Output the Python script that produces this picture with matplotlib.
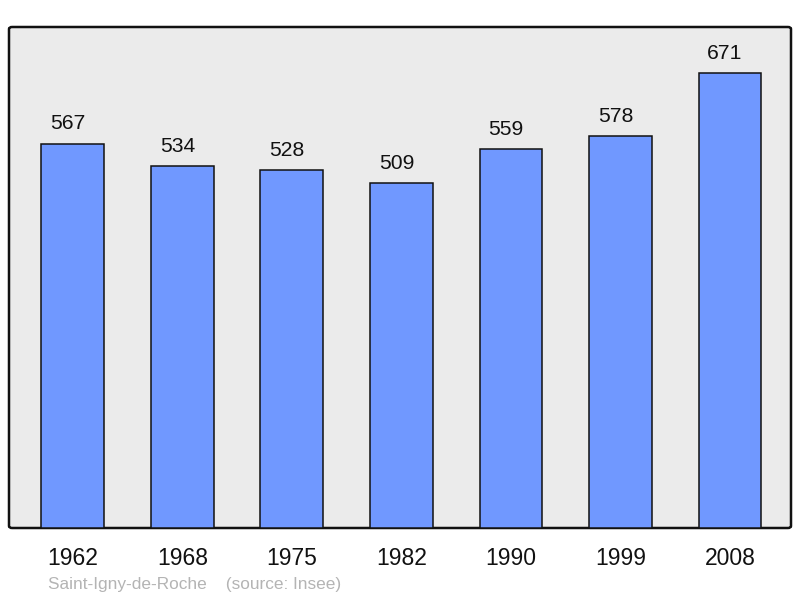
import matplotlib
matplotlib.use("Agg")
import matplotlib.pyplot as plt
from matplotlib.patches import FancyBboxPatch

years = ["1962", "1968", "1975", "1982", "1990", "1999", "2008"]
population = [567, 534, 528, 509, 559, 578, 671]
footer = "Saint-Igny-de-Roche    (source: Insee)"

plt.rcParams["font.family"] = ["Liberation Sans", "DejaVu Sans"]

fig = plt.figure(figsize=(8, 5.98), dpi=100)
ax = fig.add_axes([9 / 800, 1 - 528 / 598, 782 / 800, 501 / 598])
ax.set_facecolor("none")

# rounded background frame
frame = FancyBboxPatch((0, 0), 1, 1, boxstyle="round,pad=0,rounding_size=0.004",
                       transform=ax.transAxes, facecolor="#ebebeb",
                       edgecolor="#111111", linewidth=1.8, zorder=0, clip_on=False)
ax.add_patch(frame)

x = list(range(len(years)))
bars = ax.bar(x, population, width=0.575, color="#7098ff", edgecolor="#111111",
              linewidth=1.1, zorder=2)
for xi, v in zip(x, population):
    ax.annotate(str(v), (xi, v), xytext=(-3.6, 7.5), textcoords="offset points",
                ha="center", va="bottom", fontsize=15.2, color="#111111")

ax.set_xlim(-0.584, 6.557)
ax.set_ylim(0, 739)
for s in ax.spines.values():
    s.set_visible(False)
ax.set_yticks([])
ax.set_xticks(x)
ax.set_xticklabels(years, fontsize=16.5, color="#111111")
ax.tick_params(axis="x", length=0, pad=14)

fig.text(48 / 800, 1 - 584 / 598, footer, fontsize=12.4, color="#b4b4b4",
         ha="left", va="center")

fig.savefig("out.png", dpi=100)
